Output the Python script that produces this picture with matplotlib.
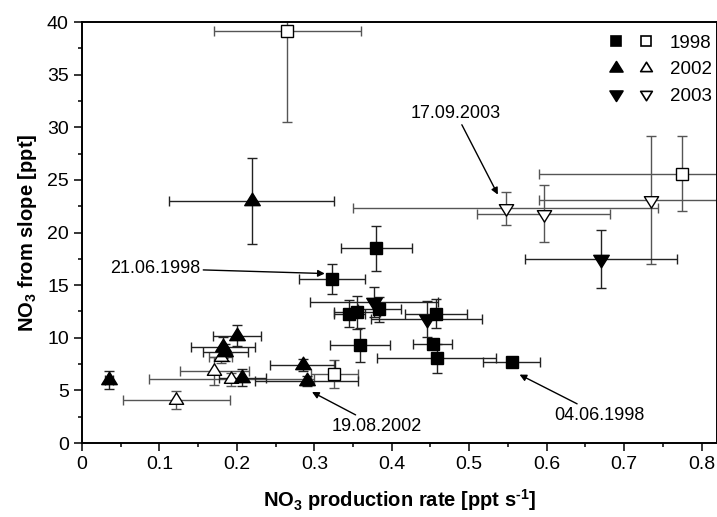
import numpy as np
import matplotlib
matplotlib.use("Agg")
import matplotlib.pyplot as plt
from matplotlib.path import Path
from matplotlib.legend_handler import HandlerTuple
from matplotlib.lines import Line2D

plt.rcParams['font.family'] = ['Liberation Sans', 'DejaVu Sans']
plt.rcParams['mathtext.fontset'] = 'custom'
plt.rcParams['mathtext.rm'] = 'Liberation Sans:bold'
plt.rcParams['mathtext.it'] = 'Liberation Sans:bold'
plt.rcParams['mathtext.bf'] = 'Liberation Sans:bold'

# 1998 filled squares
sqf_x = [0.323, 0.380, 0.345, 0.355, 0.384, 0.359, 0.457, 0.453, 0.458, 0.555]
sqf_y = [15.6, 18.5, 12.3, 12.4, 12.7, 9.3, 12.3, 9.4, 8.05, 7.65]
sqf_xe = [0.043, 0.046, 0.02, 0.03, 0.028, 0.039, 0.04, 0.025, 0.077, 0.037]
sqf_ye = [1.45, 2.15, 1.3, 1.6, 1.2, 1.65, 1.35, 0.5, 1.4, 0.4]
# 1998 open squares
sqo_x = [0.265, 0.326, 0.775]
sqo_y = [39.1, 6.55, 25.6]
sqo_xe = [0.095, 0.03, 0.185]
sqo_ye = [8.6, 1.35, 3.55]
# 2002 filled up-triangles
tuf_x = [0.035, 0.219, 0.200, 0.182, 0.185, 0.207, 0.285, 0.290]
tuf_y = [6.0, 23.0, 10.2, 9.1, 8.6, 6.2, 7.4, 5.9]
tuf_xe = [0.005, 0.107, 0.031, 0.041, 0.029, 0.03, 0.042, 0.066]
tuf_ye = [0.85, 4.1, 1.0, 1.0, 0.8, 0.8, 0.6, 0.5]
# 2002 open up-triangles
tuo_x = [0.122, 0.171, 0.179, 0.193]
tuo_y = [4.1, 6.85, 8.2, 6.05]
tuo_xe = [0.069, 0.045, 0.015, 0.107]
tuo_ye = [0.85, 1.3, 0.6, 0.6]
# 2003 filled down-triangles
tdf_x = [0.670, 0.377, 0.445]
tdf_y = [17.5, 13.4, 11.8]
tdf_xe = [0.098, 0.083, 0.072]
tdf_ye = [2.75, 1.4, 1.7]
# 2003 open down-triangles
tdo_x = [0.547, 0.596, 0.735]
tdo_y = [22.3, 21.8, 23.1]
tdo_xe = [0.197, 0.086, 0.145]
tdo_ye = [1.55, 2.7, 6.1]

xticks = [0, 0.1, 0.2, 0.3, 0.4, 0.5, 0.6, 0.7, 0.8]
xticklabels = ['0', '0.1', '0.2', '0.3', '0.4', '0.5', '0.6', '0.7', '0.8']
yticks = [0, 5, 10, 15, 20, 25, 30, 35, 40]

# centroid-centred triangles
w, h = 15.3, 12.3
tri_up = Path([(0, 2*h/3), (-w/2, -h/3), (w/2, -h/3), (0, 2*h/3)],
              [Path.MOVETO, Path.LINETO, Path.LINETO, Path.CLOSEPOLY])
tri_dn = Path([(0, -2*h/3), (-w/2, h/3), (w/2, h/3), (0, -2*h/3)],
              [Path.MOVETO, Path.LINETO, Path.LINETO, Path.CLOSEPOLY])

fig = plt.figure(figsize=(7.17, 5.17), dpi=100)
ax = fig.add_axes([82/717, 1-443/517, 1-82/717, (443-22)/517])

def eb(x, y, xe, ye, marker, filled, ms, ecol):
    ax.errorbar(x, y, xerr=xe, yerr=ye, fmt='none', ecolor=ecol,
                elinewidth=1.0, capsize=3.5, capthick=1.0, zorder=2)
    ax.plot(x, y, linestyle='none', marker=marker, markersize=ms,
            markerfacecolor='black' if filled else 'white',
            markeredgecolor='black', markeredgewidth=1.0, zorder=3)

eb(tuo_x, tuo_y, tuo_xe, tuo_ye, tri_up, False, 11, '#555555')
eb(tdo_x, tdo_y, tdo_xe, tdo_ye, tri_dn, False, 11, '#555555')
eb(sqo_x, sqo_y, sqo_xe, sqo_ye, 's', False, 8, '#555555')
eb(tuf_x, tuf_y, tuf_xe, tuf_ye, tri_up, True, 12, '#222222')
eb(tdf_x, tdf_y, tdf_xe, tdf_ye, tri_dn, True, 12, '#222222')
eb(sqf_x, sqf_y, sqf_xe, sqf_ye, 's', True, 8.5, '#222222')

ax.set_xlim(0, 0.82)
ax.set_ylim(0, 40)
ax.set_xticks(xticks)
ax.set_xticklabels(xticklabels)
ax.set_yticks(yticks)
ax.set_xticks(np.arange(0.05, 0.82, 0.1), minor=True)
ax.set_yticks(np.arange(2.5, 40, 5), minor=True)
ax.tick_params(axis='both', which='major', direction='out', length=6, width=1.1,
               labelsize=14, top=False, right=False)
ax.tick_params(axis='both', which='minor', direction='out', length=3, width=1.1,
               top=False, right=False)
for s in ax.spines.values():
    s.set_linewidth(1.4)

ax.set_xlabel(r'NO$_3$ production rate [ppt s$^{\text{-1}}$]', fontsize=14.5,
              fontweight='bold', labelpad=10)
ax.set_ylabel(r'NO$_3$ from slope [ppt]', fontsize=14.5, fontweight='bold', labelpad=6)

arrow = dict(arrowstyle='-|>', color='black', lw=1.0, mutation_scale=10, shrinkA=0, shrinkB=0)
ax.annotate('21.06.1998', xy=(0.3135, 16.1), xytext=(0.153, 16.58),
            fontsize=13, ha='right', va='center', arrowprops=arrow)
ax.annotate('17.09.2003', xy=(0.537, 23.6), xytext=(0.483, 30.5),
            fontsize=13, ha='center', va='bottom', arrowprops=arrow)
ax.annotate('19.08.2002', xy=(0.297, 4.85), xytext=(0.381, 1.6),
            fontsize=13, ha='center', va='center', arrowprops=arrow)
ax.annotate('04.06.1998', xy=(0.565, 6.5), xytext=(0.668, 2.65),
            fontsize=13, ha='center', va='center', arrowprops=arrow)

def mk(marker, filled, ms):
    return Line2D([], [], linestyle='none', marker=marker, markersize=ms,
                  markerfacecolor='black' if filled else 'white',
                  markeredgecolor='black', markeredgewidth=1.2)

handles = [(mk('s', True, 7), mk('s', False, 6.5)),
           (mk(tri_up, True, 10), mk(tri_up, False, 9)),
           (mk(tri_dn, True, 10), mk(tri_dn, False, 9))]
ax.legend(handles, ['1998', '2002', '2003'],
          handler_map={tuple: HandlerTuple(ndivide=None, pad=0.9)},
          loc='upper right', bbox_to_anchor=(1.018, 1.01), frameon=False,
          fontsize=13.5, handlelength=2.3, handletextpad=0.9, labelspacing=0.5)

fig.savefig('out.png', dpi=100)
